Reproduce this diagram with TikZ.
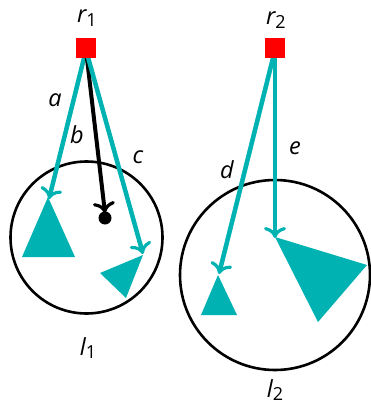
\documentclass[tikz,border=0pt]{standalone}
\usepackage{fontspec}
\setsansfont{Open Sans}
\usetikzlibrary{arrows.meta}
\definecolor{tealc}{RGB}{0,178,178}
\newcommand\lbl[2]{{\sffamily\itshape #1}\raisebox{-0.35ex}{\sffamily\upshape\fontsize{18}{21}\selectfont #2}}
\begin{document}
\begin{tikzpicture}[x=1pt,y=-1pt,
  sq/.style={fill=red, minimum size=20pt, inner sep=0pt},
  ring/.style={draw=black, line width=2.6pt, circle, inner sep=0pt},
  tarrow/.style={draw=tealc, line width=4.5pt, -{To[length=11pt,width=22pt,line width'=3.2pt]}},
  barrow/.style={draw=black, line width=4pt, -{To[length=11pt,width=22pt,line width'=3.2pt]}},
  tri/.style={fill=tealc},
  txt/.style={font=\fontsize{23.5}{27}\selectfont, inner sep=0pt}]
\useasboundingbox (0,0) rectangle (370,404);
% circles
\node[ring, minimum size=152pt] (c1) at (86.5,237.5) {};
\node[ring, minimum size=190pt] (c2) at (275,275) {};
% triangles
\fill[tri] (48,197) -- (22,257) -- (75,257) -- cycle;
\fill[tri] (143,255) -- (100,273) -- (126,298) -- cycle;
\fill[tri] (218,275) -- (201,315) -- (237,315) -- cycle;
\fill[tri] (275,237) -- (367,265) -- (318,322) -- cycle;
\fill[black] (105,218) circle (6.5pt);
% targets
\coordinate (ta) at (49,199);
\coordinate (tb) at (105,213);
\coordinate (tc) at (143,254);
\coordinate (td) at (219,274);
\coordinate (te) at (275,238);
% sources
\coordinate (s1) at (86,50);
\coordinate (s2) at (275,50);
\draw[tarrow] (s1) -- (ta);
\draw[barrow] (s1) -- (tb);
\draw[tarrow] (s1) -- (tc);
\draw[tarrow] (s2) -- (td);
\draw[tarrow] (s2) -- (te);
% robots
\node[sq] (r1) at (86,48) {};
\node[sq] (r2) at (275,48) {};
\node[txt] (r1l) at (87,18) {\lbl{r}{1}};
\node[txt] (r2l) at (276,20) {\lbl{r}{2}};
% labels
\node[txt] (la) at (55,100) {\sffamily\itshape a};
\node[txt] (lb) at (77,135) {\sffamily\itshape b};
\node[txt] (lc) at (138,157) {\sffamily\itshape c};
\node[txt] (ld) at (227,170) {\sffamily\itshape d};
\node[txt] (le) at (295,148) {\sffamily\itshape e};
\node[txt] (l1) at (88,348) {\lbl{l}{1}};
\node[txt] (l2) at (275,390) {\lbl{l}{2}};
\end{tikzpicture}
\end{document}
